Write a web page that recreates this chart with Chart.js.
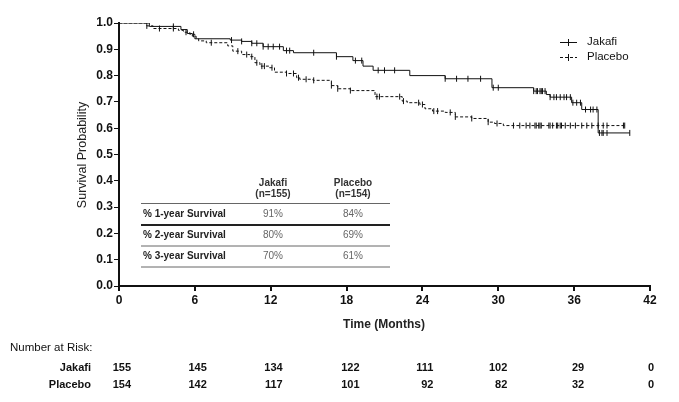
<!DOCTYPE html>
<html>
<head>
<meta charset="utf-8">
<script src="https://cdn.jsdelivr.net/npm/chart.js@4.4.0/dist/chart.umd.min.js"></script>
<style>
  html, body { margin: 0; padding: 0; background: #fff; }
  #wrap { width: 679px; height: 402px; }
</style>
</head>
<body>
<div id="wrap"><canvas id="km"></canvas></div>
<script>
// Kaplan-Meier steps (months, survival after the drop)
const jakafiTime = [0, 2.4, 4.9, 5.4, 5.8, 6.1, 8.8, 9.7, 10.5, 11.4, 13.0, 13.8, 17.2, 18.5, 19.3, 20.1, 23.0, 25.8, 29.5, 32.8, 33.8, 34.1, 35.8, 36.6, 37.9, 40.4];
const jakafiSurv = [1.0, 0.987, 0.975, 0.96, 0.95, 0.94, 0.935, 0.93, 0.923, 0.91, 0.895, 0.887, 0.872, 0.857, 0.836, 0.82, 0.80, 0.788, 0.754, 0.741, 0.728, 0.718, 0.697, 0.671, 0.582, 0.582];
const placeboTime = [0, 2.2, 2.7, 4.7, 5.1, 5.6, 6.0, 6.3, 6.9, 8.6, 9.0, 9.7, 10.35, 10.75, 11.15, 11.9, 12.3, 13.25, 14.05, 14.3, 15.35, 16.8, 17.3, 18.3, 20.25, 22.4, 22.8, 23.8, 24.2, 24.8, 25.8, 26.6, 27.9, 29.2, 29.7, 30.4, 40.0];
const placeboSurv = [1.0, 0.989, 0.979, 0.972, 0.965, 0.957, 0.94, 0.932, 0.925, 0.913, 0.893, 0.88, 0.872, 0.849, 0.836, 0.83, 0.813, 0.808, 0.792, 0.786, 0.782, 0.762, 0.75, 0.743, 0.72, 0.703, 0.697, 0.69, 0.674, 0.665, 0.66, 0.643, 0.637, 0.623, 0.618, 0.61, 0.61];

// censored observations (months)
const jakafiCensor = [4.3, 8.9, 9.7, 10.5, 10.9, 11.4, 11.8, 12.2, 12.7, 13.25, 13.5, 15.4, 17.2, 18.7, 19.2, 20.5, 21.0, 21.8, 25.8, 26.7, 27.6, 28.6, 29.6, 30.0,
  32.8, 33.0, 33.1, 33.3, 33.4, 33.5, 33.7, 34.1, 34.4, 34.6, 34.9, 35.2, 35.4, 35.7, 35.9, 36.2, 36.5, 36.9, 37.3, 37.5, 37.8, 38.0, 38.2, 38.3, 38.6, 40.4];
const placeboCensor = [2.2, 3.2, 4.3, 5.3, 5.9, 7.3, 9.4, 10.1, 10.5, 10.9, 11.3, 11.5, 12.1, 13.25, 13.8, 14.2, 14.8, 15.4, 16.8, 17.3, 18.3,
  20.4, 20.6, 22.2, 22.5, 23.7, 24.0, 24.9, 25.2, 26.2, 26.6, 27.9, 29.2, 29.9, 31.2, 31.7, 32.2, 32.5, 32.9, 33.0, 33.2, 33.3, 33.4,
  34.0, 34.1, 34.3, 34.6, 34.7, 34.9, 35.0, 35.3, 35.7, 36.1, 36.6, 37.0, 37.4, 37.9, 38.3, 38.6, 39.9, 40.0];

const yTicks = [0, 0.1, 0.2, 0.3, 0.4, 0.5, 0.6, 0.7, 0.8, 0.9, 1.0];
const xTicks = [0, 6, 12, 18, 24, 30, 36, 42];
const riskJakafi = [155, 145, 134, 122, 111, 102, 29, 0];
const riskPlacebo = [154, 142, 117, 101, 92, 82, 32, 0];

const tableRows = ["% 1-year Survival", "% 2-year Survival", "% 3-year Survival"];
const tableJakafi = ["91%", "80%", "70%"];
const tablePlacebo = ["84%", "69%", "61%"];

// right edge of each at-risk column, relative to its tick
const riskOffset = [12, 12, 12, 13, 11, 9, 10, 4];

function survAt(times, vals, t) {
  let v = vals[0];
  for (let i = 0; i < times.length; i++) {
    if (times[i] <= t) v = vals[i];
  }
  return v;
}

const FONT = "'Liberation Sans', Arial, sans-serif";

const textPlugin = {
  id: "kmText",
  afterDraw(chart) {
    const ctx = chart.ctx;
    const xs = chart.scales.x;
    ctx.save();
    ctx.fillStyle = "#222";

    // y axis title
    ctx.save();
    ctx.translate(83, 155);
    ctx.rotate(-Math.PI / 2);
    ctx.font = "12.5px " + FONT;
    ctx.textAlign = "center";
    ctx.textBaseline = "middle";
    ctx.fillText("Survival Probability", 0, 0);
    ctx.restore();

    // x axis title
    ctx.font = "bold 12px " + FONT;
    ctx.textAlign = "center";
    ctx.textBaseline = "middle";
    ctx.fillText("Time (Months)", 384, 325);

    // legend
    ctx.strokeStyle = "#111";
    ctx.lineWidth = 1;
    ctx.beginPath();
    ctx.moveTo(560, 42.5); ctx.lineTo(577, 42.5);
    ctx.moveTo(568.5, 39); ctx.lineTo(568.5, 46);
    ctx.stroke();
    ctx.setLineDash([3, 2]);
    ctx.beginPath();
    ctx.moveTo(560, 57.5); ctx.lineTo(577, 57.5);
    ctx.stroke();
    ctx.setLineDash([]);
    ctx.beginPath();
    ctx.moveTo(568.5, 54); ctx.lineTo(568.5, 61);
    ctx.stroke();
    ctx.font = "11.5px " + FONT;
    ctx.textAlign = "left";
    ctx.fillStyle = "#111";
    ctx.fillText("Jakafi", 587, 42);
    ctx.fillText("Placebo", 587, 57);

    // inset table
    ctx.textAlign = "center";
    ctx.font = "bold 10px " + FONT;
    ctx.fillStyle = "#333";
    ctx.fillText("Jakafi", 273, 183);
    ctx.fillText("(n=155)", 273, 194);
    ctx.fillText("Placebo", 353, 183);
    ctx.fillText("(n=154)", 353, 194);
    const lineYs = [203.5, 225, 246, 267];
    lineYs.forEach((ly, i) => {
      ctx.strokeStyle = i === 1 ? "#222" : "#666";
      ctx.lineWidth = i === 1 ? 2 : 1;
      ctx.beginPath();
      ctx.moveTo(141, ly); ctx.lineTo(390, ly);
      ctx.stroke();
    });
    const rowYs = [214, 235, 256];
    tableRows.forEach((r, i) => {
      ctx.textAlign = "left";
      ctx.font = "bold 10px " + FONT;
      ctx.fillStyle = "#222";
      ctx.fillText(r, 143, rowYs[i]);
      ctx.textAlign = "center";
      ctx.font = "10px " + FONT;
      ctx.fillStyle = "#666";
      ctx.fillText(tableJakafi[i], 273, rowYs[i]);
      ctx.fillText(tablePlacebo[i], 353, rowYs[i]);
    });

    // number at risk
    ctx.fillStyle = "#111";
    ctx.font = "11.5px " + FONT;
    ctx.textAlign = "left";
    ctx.fillText("Number at Risk:", 10, 348);
    ctx.textAlign = "right";
    ctx.font = "bold 11px " + FONT;
    ctx.fillText("Jakafi", 91, 368);
    ctx.fillText("Placebo", 91, 385);
    xTicks.forEach((t, i) => {
      const px = xs.getPixelForValue(t) + riskOffset[i];
      ctx.fillText(String(riskJakafi[i]), px, 368);
      ctx.fillText(String(riskPlacebo[i]), px, 385);
    });
    ctx.restore();
  }
};

const ctx = document.getElementById("km").getContext("2d");
new Chart(ctx, {
  type: "line",
  data: {
    datasets: [
      {
        label: "Jakafi",
        data: jakafiTime.map((t, i) => ({ x: t, y: jakafiSurv[i] })),
        borderColor: "#111",
        borderWidth: 1,
        stepped: true,
        pointRadius: 0,
        fill: false
      },
      {
        label: "Placebo",
        data: placeboTime.map((t, i) => ({ x: t, y: placeboSurv[i] })),
        borderColor: "#111",
        borderWidth: 1,
        borderDash: [3, 2],
        stepped: true,
        pointRadius: 0,
        fill: false
      },
      {
        label: "Jakafi censored",
        type: "scatter",
        data: jakafiCensor.map((t) => ({ x: t, y: survAt(jakafiTime, jakafiSurv, t) })),
        pointStyle: "line",
        rotation: 90,
        pointRadius: 3,
        borderColor: "#111",
        borderWidth: 1,
        showLine: false
      },
      {
        label: "Placebo censored",
        type: "scatter",
        data: placeboCensor.map((t) => ({ x: t, y: survAt(placeboTime, placeboSurv, t) })),
        pointStyle: "line",
        rotation: 90,
        pointRadius: 3,
        borderColor: "#111",
        borderWidth: 1,
        showLine: false
      }
    ]
  },
  options: {
    responsive: true,
    maintainAspectRatio: false,
    animation: false,
    events: [],
    layout: { padding: { left: 0, right: 29, top: 23, bottom: 96 } },
    plugins: {
      legend: { display: false },
      tooltip: { enabled: false }
    },
    scales: {
      x: {
        type: "linear",
        min: 0,
        max: 42,
        afterFit: (s) => { s.height = 20; },
        afterBuildTicks: (s) => { s.ticks = xTicks.map((v) => ({ value: v })); },
        border: { color: "#111", width: 2 },
        grid: { display: true, drawOnChartArea: false, drawTicks: true, tickLength: 5, color: "#111", lineWidth: 2 },
        ticks: { color: "#111", padding: 2, font: { family: FONT, size: 12, weight: "bold" } }
      },
      y: {
        min: 0,
        max: 1,
        afterFit: (s) => { s.width = 119; },
        afterBuildTicks: (s) => { s.ticks = yTicks.map((v) => ({ value: v })); },
        border: { color: "#111", width: 2 },
        grid: { display: true, drawOnChartArea: false, drawTicks: true, tickLength: 5, color: "#111", lineWidth: 1 },
        ticks: {
          color: "#111",
          padding: 1,
          font: { family: FONT, size: 12, weight: "bold" },
          callback: (v) => Number(v).toFixed(1)
        }
      }
    }
  },
  plugins: [textPlugin]
});
</script>
</body>
</html>
